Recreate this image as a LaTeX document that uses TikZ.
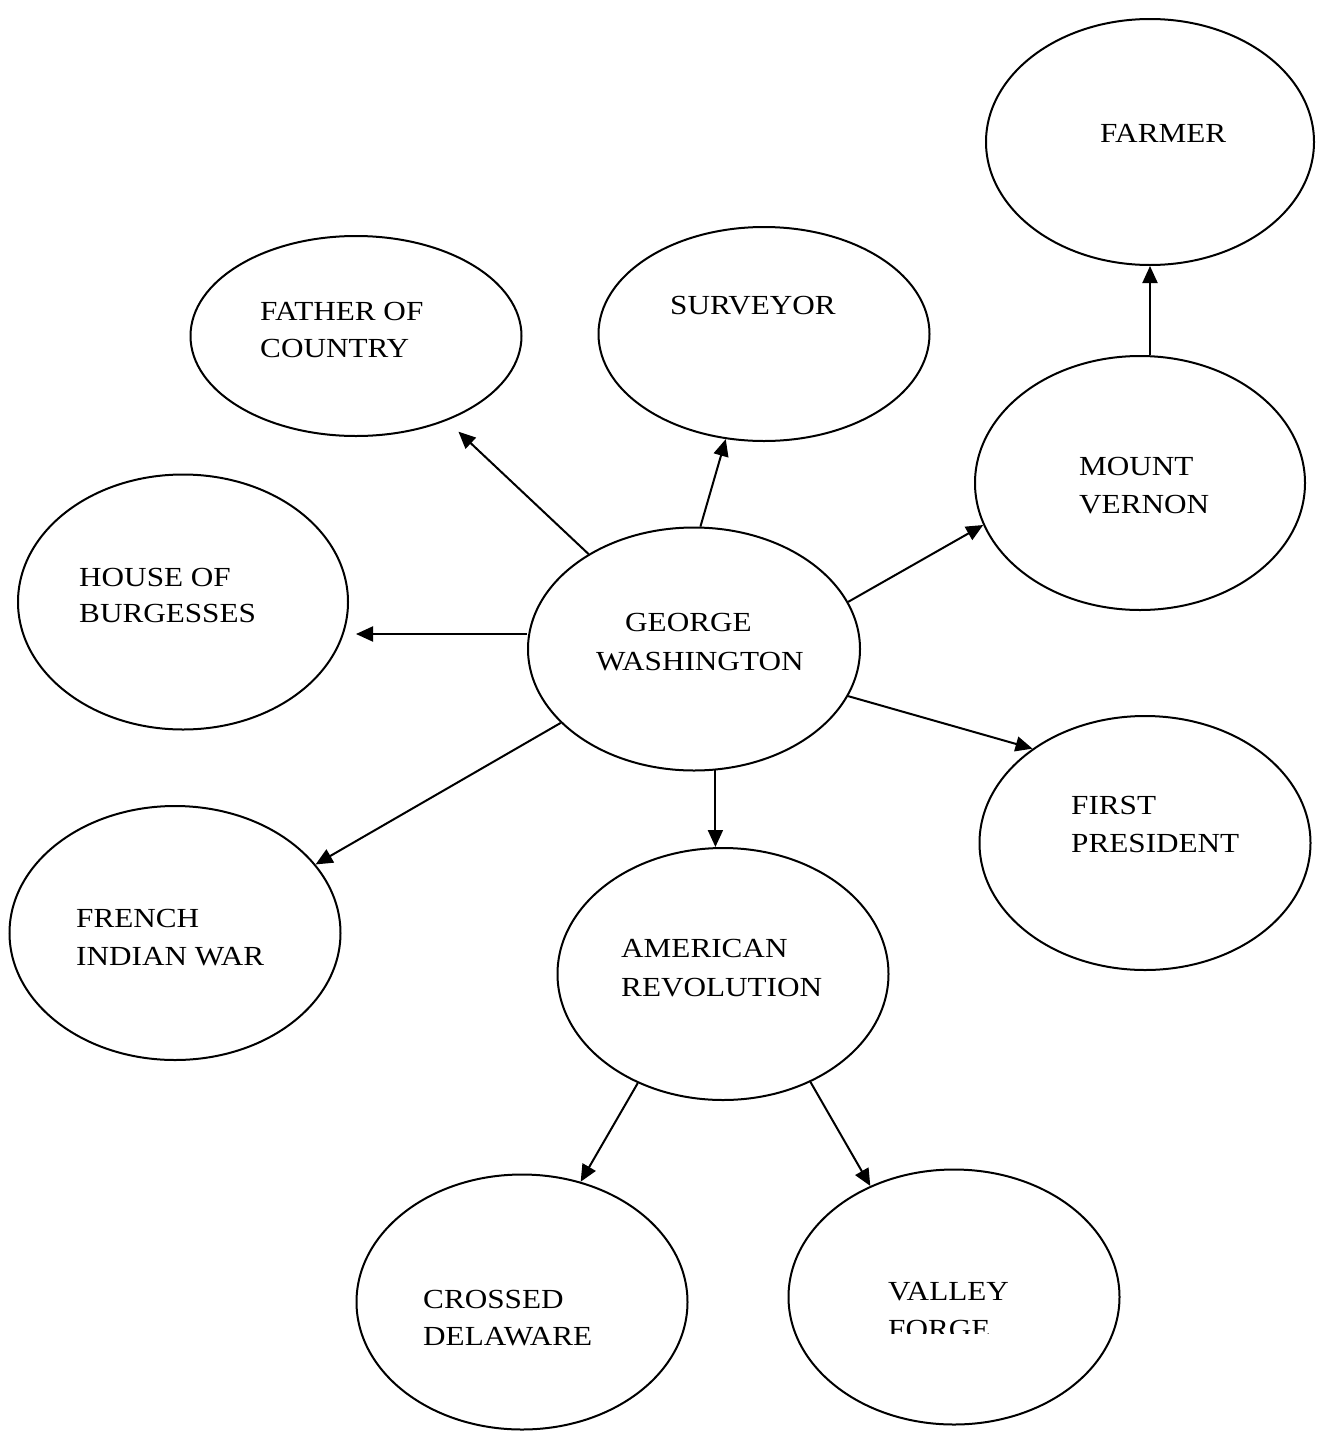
\documentclass[tikz,border=0pt]{standalone}
\usepackage{fontspec}
\setmainfont[FakeStretch=1.13]{Liberation Serif}
\usetikzlibrary{shapes.geometric,arrows.meta}
\begin{document}
\begin{tikzpicture}[x=1pt,y=-1pt,
  bub/.style={draw,ellipse,line width=2pt,inner sep=0pt},
  lbl/.style={anchor=base west,inner sep=0pt,font=\fontsize{27.6}{33}\selectfont},
  arr/.style={line width=2pt,-{Triangle[length=17pt,width=15pt]}}]
\useasboundingbox (0,0) rectangle (1319,1435);
% ellipses
\node[bub,minimum width=328pt,minimum height=246pt] (farmer) at (1150,142) {};
\node[bub,minimum width=331pt,minimum height=214pt] (surv) at (764,334) {};
\node[bub,minimum width=331pt,minimum height=200pt] (father) at (356,336) {};
\node[bub,minimum width=330pt,minimum height=254pt] (mv) at (1140,483) {};
\node[bub,minimum width=330pt,minimum height=255pt] (house) at (183,602) {};
\node[bub,minimum width=332pt,minimum height=243pt] (gw) at (694,649) {};
\node[bub,minimum width=331pt,minimum height=254pt] (fp) at (1145,843) {};
\node[bub,minimum width=331pt,minimum height=254pt] (french) at (175,933) {};
\node[bub,minimum width=331pt,minimum height=252pt] (ar) at (723,974) {};
\node[bub,minimum width=331pt,minimum height=255pt] (cd) at (522,1302) {};
\node[bub,minimum width=331pt,minimum height=255pt] (vf) at (954,1297) {};
% labels
\node[lbl] (tfarmer) at (1100,142) {FARMER};
\node[lbl] (tsurv) at (670,314) {SURVEYOR};
\node[lbl] (tfather1) at (260,320) {FATHER OF};
\node[lbl] (tfather2) at (260,357) {COUNTRY};
\node[lbl] (tmv1) at (1079,475) {MOUNT};
\node[lbl] (tmv2) at (1079,513) {VERNON};
\node[lbl] (thouse1) at (79,586) {HOUSE OF};
\node[lbl] (thouse2) at (79,622) {BURGESSES};
\node[lbl] (tgw1) at (625,631) {GEORGE};
\node[lbl] (tgw2) at (596,670) {WASHINGTON};
\node[lbl] (tfp1) at (1071,814) {FIRST};
\node[lbl] (tfp2) at (1071,852) {PRESIDENT};
\node[lbl] (tfr1) at (76,927) {FRENCH};
\node[lbl] (tfr2) at (76,965) {INDIAN WAR};
\node[lbl] (tar1) at (621,957) {AMERICAN};
\node[lbl] (tar2) at (621,996) {REVOLUTION};
\node[lbl] (tcd1) at (423,1308) {CROSSED};
\node[lbl] (tcd2) at (423,1345) {DELAWARE};
\node[lbl] (tvf1) at (888,1300) {VALLEY};
\begin{scope}
\clip (870,1300) rectangle (1010,1333);
\node[lbl] (tvf2) at (888,1338) {FORGE};
\end{scope}
% arrows
\draw[arr,shorten >=16pt] (gw.138) -- (father.-43.3);
\draw[arr] (gw.87) -- (surv.-110.6);
\draw[arr] (gw.17.9) -- (mv.195.3);
\draw[arr,shorten >=7pt] (gw.west |- 0,634) -- (house.east |- 0,634);
\draw[arr] (gw.-17.8) -- (fp.140.8);
\draw[arr] (gw.-151.2) -- (french.26.4);
\draw[arr] (gw.-80.8) -- (gw.-80.8 |- ar.north);
\draw[arr] (farmer.south |- mv.north) -- (farmer.south);
\draw[arr] (ar.-128.3) -- (cd.64.5);
\draw[arr] (ar.-51) -- (vf.127.4);
\end{tikzpicture}
\end{document}
